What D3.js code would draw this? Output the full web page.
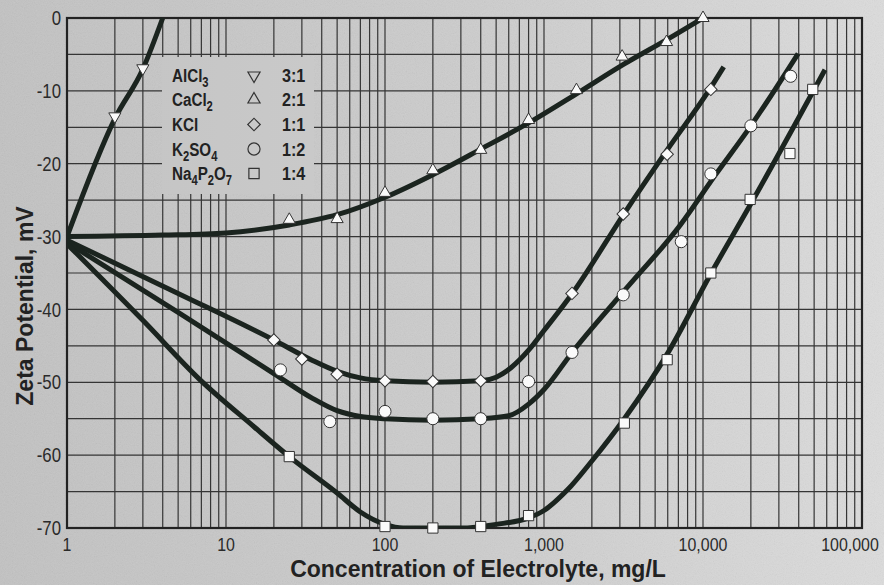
<!DOCTYPE html>
<html>
<head>
<meta charset="utf-8">
<script src="https://cdn.jsdelivr.net/npm/d3@7"></script>
<style>
  body { margin: 0; background: #cbcbcb; }
  svg { display: block; }
</style>
</head>
<body>
<svg id="chart"></svg>
<script>
// axis ticks
var xTicks = [1, 10, 100, 1000, 10000, 100000];
var xTickLabels = ["1", "10", "100", "1,000", "10,000", "100,000"];
var yTicks = [0, -10, -20, -30, -40, -50, -60, -70];

var alcl3X = [2, 3];
var alcl3Y = [-13.5, -6.9];
var cacl2X = [25, 50, 100, 200, 400, 800, 1600, 3100, 5900, 10000];
var cacl2Y = [-27.7, -27.6, -24, -20.9, -18.1, -14, -9.9, -5.3, -3.3, 0];
var kclX = [20, 30, 50, 100, 200, 400, 1500, 3150, 5950, 11200];
var kclY = [-44.2, -46.8, -48.9, -49.8, -49.9, -49.8, -37.8, -26.9, -18.7, -9.8];
var k2so4X = [22, 45, 100, 200, 400, 800, 1500, 3150, 7300, 11200, 20000, 35600];
var k2so4Y = [-48.3, -55.4, -54, -55, -55, -49.9, -45.9, -38, -30.7, -21.4, -14.8, -8];
var na4p2o7X = [25, 100, 200, 400, 800, 3200, 5950, 11200, 19800, 35200, 49000];
var na4p2o7Y = [-60.2, -69.8, -70, -69.8, -68.3, -55.6, -46.9, -35, -24.9, -18.6, -9.8];

// smooth fitted curves
var alcl3CurveX = [1, 2, 3, 4];
var alcl3CurveY = [-30, -13.8, -7, 0];
var cacl2CurveX = [1, 4, 10, 25, 50, 100, 200, 400, 800, 1600, 3200, 6000, 10000];
var cacl2CurveY = [-30, -29.8, -29.5, -28.4, -27, -24.6, -21.5, -18, -14.4, -10.4, -6.3, -2.9, 0];
var kclCurveX = [1, 5, 20, 35, 50, 70, 100, 200, 400, 500, 620, 800, 1000, 1530, 3200, 6000, 11000, 13500];
var kclCurveY = [-30.5, -37.8, -44.2, -47, -48.5, -49.4, -49.8, -50, -49.8, -49.3, -48, -45.6, -42.9, -37.6, -26.8, -18, -9.8, -6.7];
var k2so4CurveX = [1, 5, 20, 35, 50, 70, 100, 200, 400, 600, 800, 1000, 1515, 3150, 7200, 12000, 20000, 39600];
var k2so4CurveY = [-30.8, -40.4, -48.8, -52.2, -53.9, -54.7, -55, -55.2, -55, -54.6, -53, -51, -45.8, -37.6, -28.4, -21.5, -14.8, -4.9];
var na4p2o7CurveX = [1, 3, 6.9, 15, 25, 50, 70, 100, 130, 300, 500, 800, 1000, 1400, 2000, 3200, 6000, 11200, 20000, 58500];
var na4p2o7CurveY = [-31, -41.5, -49.7, -56.1, -60.2, -65.2, -67.8, -69.5, -70, -70, -69.5, -68.6, -67.6, -64.8, -60.8, -55, -46, -35.1, -25.5, -7.1];

// legend: [text, isSubscript]
var legendLabels = [
  [["AlCl", 0], ["3", 1]],
  [["CaCl", 0], ["2", 1]],
  [["KCl", 0]],
  [["K", 0], ["2", 1], ["SO", 0], ["4", 1]],
  [["Na", 0], ["4", 1], ["P", 0], ["2", 1], ["O", 0], ["7", 1]]
];
var legendRatios = ["3:1", "2:1", "1:1", "1:2", "1:4"];
var symbolKinds = ["down", "up", "diamond", "circle", "square"];

var W = 884, H = 585;
var NARROW = 0.84;
var svg = d3.select("#chart").attr("width", W).attr("height", H);

var x = d3.scaleLog().domain([1, 100000]).range([67, 862]);
var y = d3.scaleLinear().domain([-70, 0]).range([528, 18]);

var defs = svg.append("defs");
var grad = defs.append("linearGradient")
    .attr("id", "paper")
    .attr("gradientUnits", "userSpaceOnUse")
    .attr("x1", 0).attr("y1", 0).attr("x2", W).attr("y2", 0);
grad.append("stop").attr("offset", "0%").attr("stop-color", "#c2c2c2");
grad.append("stop").attr("offset", "55%").attr("stop-color", "#cdcdcd");
grad.append("stop").attr("offset", "100%").attr("stop-color", "#dcdcdc");

var noise = defs.append("filter").attr("id", "noise")
    .attr("x", 0).attr("y", 0).attr("width", "100%").attr("height", "100%");
noise.append("feTurbulence")
    .attr("type", "fractalNoise")
    .attr("baseFrequency", 0.9)
    .attr("numOctaves", 2)
    .attr("seed", 4);
noise.append("feColorMatrix").attr("type", "saturate").attr("values", 0);

defs.append("clipPath").attr("id", "plotclip")
  .append("rect")
    .attr("x", x(1)).attr("y", y(0) - 3)
    .attr("width", x(100000) - x(1)).attr("height", y(-70) - y(0) + 3);

svg.append("rect").attr("width", W).attr("height", H).attr("fill", "url(#paper)");
svg.append("rect").attr("width", W).attr("height", H)
    .attr("filter", "url(#noise)")
    .attr("opacity", 0.16);

// grid
var minorX = [];
for (var e = 0; e < 5; e++) {
  for (var m = 1; m <= 9; m++) minorX.push(m * Math.pow(10, e));
}
minorX.push(100000);

var grid = svg.append("g").attr("class", "grid");
grid.selectAll("line.v")
    .data(minorX)
    .enter().append("line")
    .attr("class", "v")
    .attr("x1", function(d) { return x(d); })
    .attr("x2", function(d) { return x(d); })
    .attr("y1", y(0))
    .attr("y2", y(-70))
    .attr("stroke", "#353535")
    .attr("stroke-width", 1.2);

grid.selectAll("line.h")
    .data(d3.range(-70, 1, 5))
    .enter().append("line")
    .attr("class", "h")
    .attr("x1", x(1))
    .attr("x2", x(100000))
    .attr("y1", function(d) { return y(d); })
    .attr("y2", function(d) { return y(d); })
    .attr("stroke", "#353535")
    .attr("stroke-width", 1.2);

// legend patch hides the grid behind it
svg.append("rect")
    .attr("x", 162).attr("y", 57)
    .attr("width", 152).attr("height", 137)
    .attr("fill", "url(#paper)");

// frame
svg.append("rect")
    .attr("x", x(1)).attr("y", y(0))
    .attr("width", x(100000) - x(1))
    .attr("height", y(-70) - y(0))
    .attr("fill", "none")
    .attr("stroke", "#222")
    .attr("stroke-width", 2.2);

// tick labels (narrowed Liberation Sans)
svg.append("g").selectAll("text")
    .data(yTicks)
    .enter().append("text")
    .attr("transform", function(d) { return "translate(61," + y(d) + ") scale(" + NARROW + ",1)"; })
    .attr("dy", "0.36em")
    .attr("text-anchor", "end")
    .style("font-family", "'Liberation Sans', Arial, sans-serif")
    .style("font-size", "20px")
    .attr("fill", "#2a2a2a")
    .text(function(d) { return d; });

svg.append("g").selectAll("text")
    .data(xTicks)
    .enter().append("text")
    .attr("transform", function(d, i) {
      var px = x(d) - (i == xTicks.length - 1 ? 12 : 0);
      return "translate(" + px + ",551) scale(" + NARROW + ",1)";
    })
    .attr("text-anchor", "middle")
    .style("font-family", "'Liberation Sans', Arial, sans-serif")
    .style("font-size", "19px")
    .attr("fill", "#2a2a2a")
    .text(function(d, i) { return xTickLabels[i]; });

// axis titles
svg.append("text")
    .attr("x", 478).attr("y", 577)
    .attr("text-anchor", "middle")
    .style("font-family", "'Liberation Sans', Arial, sans-serif")
    .style("font-weight", "bold")
    .style("font-size", "23px")
    .attr("fill", "#222")
    .text("Concentration of Electrolyte, mg/L");

svg.append("text")
    .attr("transform", "translate(33,306) rotate(-90)")
    .attr("text-anchor", "middle")
    .style("font-family", "'Liberation Sans', Arial, sans-serif")
    .style("font-weight", "bold")
    .style("font-size", "23px")
    .attr("fill", "#222")
    .text("Zeta Potential, mV");

// series
var series = [
  { px: alcl3X, py: alcl3Y, cx: alcl3CurveX, cy: alcl3CurveY },
  { px: cacl2X, py: cacl2Y, cx: cacl2CurveX, cy: cacl2CurveY },
  { px: kclX, py: kclY, cx: kclCurveX, cy: kclCurveY },
  { px: k2so4X, py: k2so4Y, cx: k2so4CurveX, cy: k2so4CurveY },
  { px: na4p2o7X, py: na4p2o7Y, cx: na4p2o7CurveX, cy: na4p2o7CurveY }
];

var line = d3.line()
    .x(function(d) { return x(d[0]); })
    .y(function(d) { return y(d[1]); })
    .curve(d3.curveMonotoneX);

svg.append("g")
    .attr("clip-path", "url(#plotclip)")
    .selectAll("path")
    .data(series)
    .enter().append("path")
    .attr("d", function(s) { return line(d3.zip(s.cx, s.cy)); })
    .attr("fill", "none")
    .attr("stroke", "#1b241f")
    .attr("stroke-width", 5)
    .attr("stroke-linecap", "butt");

function symbolPath(kind) {
  if (kind == "circle") return d3.symbol(d3.symbolCircle, 115)();
  if (kind == "square") return d3.symbol(d3.symbolSquare, 105)();
  if (kind == "diamond") return d3.symbol(d3.symbolSquare, 78)();
  return d3.symbol(d3.symbolTriangle, 64)();
}
function symbolRotate(kind) {
  if (kind == "down") return 180;
  if (kind == "diamond") return 45;
  return 0;
}

series.forEach(function(s, i) {
  var kind = symbolKinds[i];
  svg.append("g").selectAll("path")
      .data(d3.zip(s.px, s.py))
      .enter().append("path")
      .attr("d", symbolPath(kind))
      .attr("transform", function(d) {
        return "translate(" + x(d[0]) + "," + y(d[1]) + ") rotate(" + symbolRotate(kind) + ")";
      })
      .attr("fill", "#fafafa")
      .attr("stroke", "#333")
      .attr("stroke-width", 1);
});

// legend
var legendBase = [82, 106, 131, 155.5, 180];
var legend = svg.append("g")
    .style("font-family", "'Liberation Sans', Arial, sans-serif")
    .style("font-weight", "bold")
    .attr("fill", "#222");

legendLabels.forEach(function(parts, i) {
  var t = legend.append("text")
      .attr("transform", "translate(172," + legendBase[i] + ") scale(0.8,1)")
      .style("font-size", "19px");
  var down = false;
  parts.forEach(function(p) {
    var ts = t.append("tspan").text(p[0]);
    if (p[1] && !down) { ts.attr("dy", 5).style("font-size", "14px"); down = true; }
    else if (p[1]) { ts.style("font-size", "14px"); }
    else if (down) { ts.attr("dy", -5); down = false; }
  });

  legend.append("path")
      .attr("d", symbolPath(symbolKinds[i]))
      .attr("transform", "translate(254," + (legendBase[i] - 6.5) + ") rotate(" + symbolRotate(symbolKinds[i]) + ")")
      .attr("fill", "none")
      .attr("stroke", "#333")
      .attr("stroke-width", 1.2);

  legend.append("text")
      .attr("transform", "translate(282," + legendBase[i] + ") scale(0.85,1)")
      .style("font-size", "19px")
      .text(legendRatios[i]);
});
</script>
</body>
</html>
